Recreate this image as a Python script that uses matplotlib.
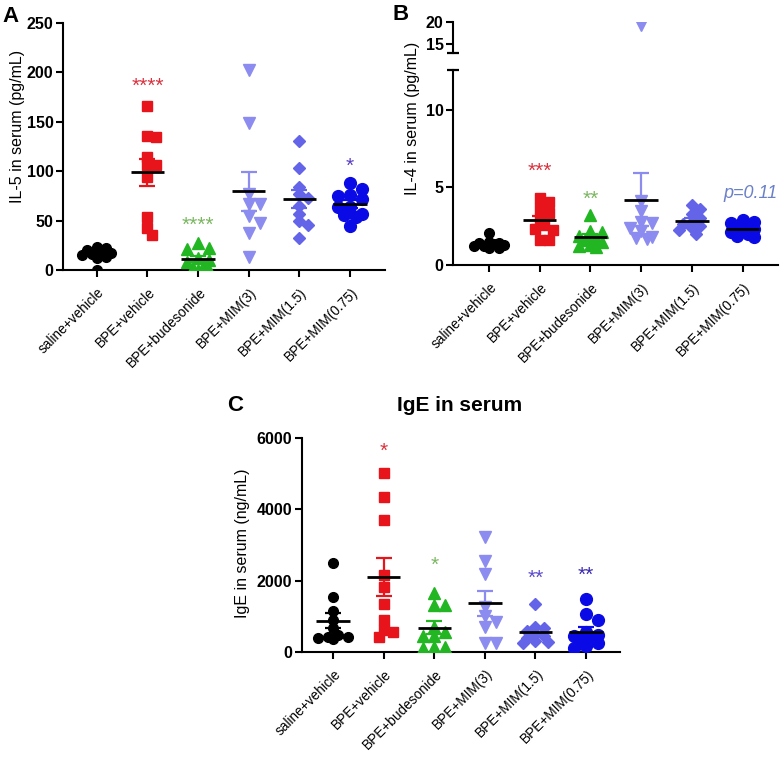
import numpy as np
import matplotlib
matplotlib.use("Agg")
import matplotlib.pyplot as plt
from matplotlib.transforms import ScaledTranslation

plt.rcParams['font.family'] = ['Liberation Sans', 'DejaVu Sans']

groups = ["saline+vehicle", "BPE+vehicle", "BPE+budesonide",
          "BPE+MIM(3)", "BPE+MIM(1.5)", "BPE+MIM(0.75)"]
colors = ["#000000", "#e8141b", "#22b722", "#8c8cf0", "#6464e8", "#0a0ae6"]
markers = ["o", "s", "^", "v", "D", "o"]
msizes = [7, 6.5, 8, 8, 6, 8.5]

# IL-5 (pg/mL)
il5 = [
    [0, 12, 13, 15, 16, 17, 18, 20, 22, 23],
    [166, 135, 134, 114, 106, 106, 94, 54, 42, 35],
    [27, 22, 21, 12, 10, 8, 5, 2, 0, 0],
    [202, 149, 77, 67, 67, 55, 48, 37, 13],
    [130, 103, 84, 77, 73, 65, 57, 50, 45, 32],
    [88, 82, 76, 75, 72, 64, 64, 57, 56, 54, 44],
]
# IL-4 (pg/mL)
il4 = [
    [2.05, 1.5, 1.45, 1.4, 1.35, 1.3, 1.25, 1.2, 1.1, 1.1],
    [4.3, 4.05, 3.65, 3.35, 3.0, 2.6, 2.35, 2.25, 1.6, 1.6],
    [3.2, 2.2, 2.1, 1.9, 1.7, 1.6, 1.5, 1.3, 1.2, 1.15],
    [19.3, 4.1, 3.5, 2.8, 2.7, 2.4, 2.2, 1.8, 1.75, 1.7],
    [3.9, 3.6, 3.3, 3.0, 2.8, 2.65, 2.5, 2.4, 2.25, 2.0],
    [2.9, 2.8, 2.7, 2.5, 2.4, 2.3, 2.2, 2.1, 2.0, 1.9, 1.8],
]
# IgE (ng/mL)
ige = [
    [2500, 1550, 1150, 890, 660, 470, 420, 400, 380, 350],
    [5034, 4340, 3703, 2157, 1811, 1341, 892, 610, 563, 422],
    [1640, 1310, 1310, 700, 560, 440, 430, 130, 120, 110],
    [3235, 2550, 2180, 1266, 1004, 844, 703, 236, 236],
    [1340, 690, 660, 580, 500, 430, 380, 310, 280, 250],
    [1470, 1050, 890, 560, 470, 450, 420, 330, 240, 160, 100],
]

stars_il5 = [(1, 192, "****", "#d9333f"), (2, 52, "****", "#7bb661"), (5, 111, "*", "#5a3fc0")]
stars_il4 = [(1, 6.5, "***", "#d9333f"), (2, 4.63, "**", "#7bb661")]
stars_ige = [(1, 5815, "*", "#d9333f"), (2, 2627, "*", "#7bb661"),
             (4, 2250, "**", "#5b4bcc"), (5, 2346, "**", "#3a2ab0")]

W, H = 780, 760
fig = plt.figure(figsize=(W / 100, H / 100), dpi=100)


def box(l, t, r, b):
    return [l / W, 1 - b / H, (r - l) / W, (b - t) / H]


def swarm(ax, i, vals, d, maxw=0.3):
    # compact beeswarm: markers may overlap a little, width is capped
    p0 = ax.transData.transform((0, 0))
    p1 = ax.transData.transform((1, 1))
    sx, sy = p1[0] - p0[0], p1[1] - p0[1]
    lim = maxw * sx
    cands = [0.0]
    k = 1
    while k * d * 0.5 <= lim:
        cands += [k * d * 0.5, -k * d * 0.5]
        k += 1
    order = np.argsort(-vals, kind="stable")
    placed = []
    offs = np.zeros(len(vals))
    for j in order:
        yp = vals[j] * sy
        best, bestd = 0.0, -1
        for c in cands:
            md = min([np.hypot(c - px, yp - py) for px, py in placed] + [1e9])
            if md >= d * 0.8:
                best = c
                break
            if md > bestd:
                best, bestd = c, md
        placed.append((best, yp))
        offs[j] = best / sx
    return i + offs


def style(ax):
    for s in ["top", "right"]:
        ax.spines[s].set_visible(False)
    for s in ["left", "bottom"]:
        ax.spines[s].set_linewidth(1.5)
    ax.tick_params(width=1.5, length=5, direction="out")
    ax.tick_params(axis="y", labelsize=11.5, pad=2)
    for t in ax.get_yticklabels():
        t.set_fontweight("bold")


def xlabels(ax):
    ax.set_xticks(range(6))
    ax.set_xticklabels(groups, rotation=45, ha="right", va="center",
                       rotation_mode="anchor", fontsize=9.8)
    off = ScaledTranslation(4 / 72, -6 / 72, fig.dpi_scale_trans)
    for t in ax.get_xticklabels():
        t.set_transform(t.get_transform() + off)


def star(ax, x, y, s, c, fs=15):
    # asterisks sit high in the glyph box: put the glyph centre on y
    off = ScaledTranslation(0, -0.58 * fs / 72, fig.dpi_scale_trans)
    ax.text(x, y, s, color=c, ha="center", va="baseline", fontsize=fs,
            transform=ax.transData + off)


def draw(ax, data, extra=None):
    for i, vals in enumerate(data):
        vals = np.array(vals, float)
        d = msizes[i] * 100 / 72
        xs = swarm(ax, i, vals, d)
        m = vals.mean()
        sem = vals.std(ddof=1) / np.sqrt(len(vals))
        for a in [ax] + ([extra] if extra is not None else []):
            a.plot(xs, vals, ls="none", marker=markers[i], ms=msizes[i], color=colors[i],
                   mec=colors[i], zorder=3)
        ax.errorbar(i, m, yerr=sem, fmt="none", ecolor=colors[i] if i else "k",
                    elinewidth=1.6, capsize=6, capthick=1.6, zorder=4)
        ax.hlines(m, i - 0.33, i + 0.33, color="k", lw=2, zorder=5)


# ---- A: IL-5
axA = fig.add_axes(box(63.3, 22.7, 385, 270))
axA.set_xlim(-0.66, 5.69)
axA.set_ylim(0, 250)
axA.set_yticks([0, 50, 100, 150, 200, 250])
style(axA)
xlabels(axA)
draw(axA, il5)
for x, y, s, c in stars_il5:
    star(axA, x, y, s, c)
fig.text(18 / W, 1 - 126 / H, "IL-5 in serum (pg/mL)", rotation=90, ha="center", va="center", fontsize=11.5)
fig.text(2 / W, 1 - 16 / H, "A", fontsize=16, fontweight="bold", va="center")

# ---- B: IL-4 with broken axis
axBt = fig.add_axes(box(453.3, 21.7, 778, 53.3))
axB = fig.add_axes(box(453.3, 70, 778, 265))
axB.set_xlim(-0.705, 5.7)
axB.set_ylim(0, 12.58)
axB.set_yticks([0, 5, 10])
axBt.set_xlim(-0.705, 5.7)
axBt.set_ylim(13, 20.1)
axBt.set_yticks([15, 20])
style(axB)
style(axBt)
axBt.spines["bottom"].set_visible(False)
axBt.tick_params(axis="x", bottom=False, labelbottom=False)
xlabels(axB)
draw(axB, il4, extra=axBt)
for a, yy in [(axB, 1), (axBt, 0)]:
    a.plot([0], [yy], marker="_", ms=9, mew=1.6, color="k", transform=a.transAxes, clip_on=False)
for x, y, s, c in stars_il4:
    star(axB, x, y, s, c)
axB.text(5.15, 4.6, "p=0.11", color="#6a80c8", style="italic", ha="center", va="center", fontsize=13)
fig.text(412 / W, 1 - 118 / H, "IL-4 in serum (pg/mL)", rotation=90, ha="center", va="center", fontsize=11.5)
fig.text(392 / W, 1 - 15 / H, "B", fontsize=16, fontweight="bold", va="center")

# ---- C: IgE
axC = fig.add_axes(box(301.7, 438.3, 620, 651.7))
axC.set_xlim(-0.62, 5.67)
axC.set_ylim(0, 6000)
axC.set_yticks([0, 2000, 4000, 6000])
style(axC)
xlabels(axC)
draw(axC, ige)
for x, y, s, c in stars_ige:
    star(axC, x, y, s, c)
fig.text(242 / W, 1 - 543 / H, "IgE in serum (ng/mL)", rotation=90, ha="center", va="center", fontsize=11.5)
fig.text(460 / W, 1 - 405 / H, "IgE in serum", ha="center", va="center", fontsize=15, fontweight="bold")
fig.text(227 / W, 1 - 405 / H, "C", fontsize=16, fontweight="bold", va="center")

fig.savefig("out.png", dpi=100)
